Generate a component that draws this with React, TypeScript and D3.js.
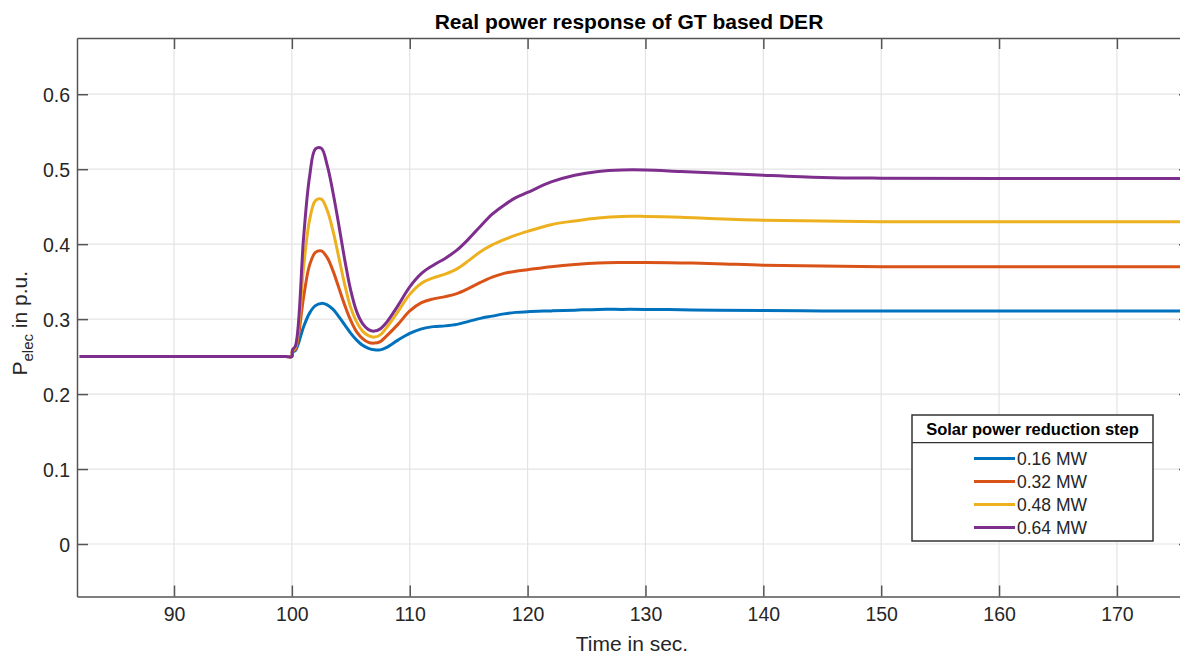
import { useEffect, useRef } from 'react';
import * as d3 from 'd3';

// time axis shared by all four runs (seconds)
const timeSec = [82, 90, 99.5, 100, 100.05, 100.3, 101, 101.5, 102, 102.5, 103, 103.5, 104, 104.5, 105, 105.5, 106, 106.5, 107, 107.5, 108, 109, 110, 111, 112, 113, 114, 115, 116, 117, 118, 119, 120, 122, 124, 126, 128, 130, 133, 136, 140, 145, 150, 160, 177];

const p016 = [0.250, 0.250, 0.250, 0.250, 0.256, 0.258, 0.290, 0.308, 0.318, 0.321, 0.319, 0.313, 0.303, 0.292, 0.281, 0.272, 0.265, 0.261, 0.259, 0.259, 0.262, 0.272, 0.281, 0.287, 0.290, 0.291, 0.293, 0.297, 0.301, 0.304, 0.307, 0.309, 0.310, 0.311, 0.312, 0.313, 0.313, 0.313, 0.3125, 0.312, 0.3115, 0.311, 0.311, 0.311, 0.311];
const p032 = [0.250, 0.250, 0.250, 0.250, 0.257, 0.260, 0.330, 0.372, 0.389, 0.391, 0.382, 0.364, 0.341, 0.318, 0.298, 0.283, 0.274, 0.269, 0.268, 0.270, 0.277, 0.293, 0.311, 0.322, 0.327, 0.330, 0.334, 0.341, 0.349, 0.356, 0.361, 0.364, 0.366, 0.370, 0.373, 0.375, 0.3755, 0.3755, 0.375, 0.374, 0.372, 0.371, 0.370, 0.370, 0.370];
const p048 = [0.250, 0.250, 0.250, 0.250, 0.258, 0.262, 0.370, 0.432, 0.458, 0.460, 0.445, 0.417, 0.381, 0.345, 0.315, 0.296, 0.284, 0.278, 0.276, 0.279, 0.288, 0.310, 0.333, 0.348, 0.355, 0.360, 0.367, 0.378, 0.390, 0.399, 0.406, 0.412, 0.417, 0.426, 0.431, 0.435, 0.437, 0.437, 0.436, 0.434, 0.432, 0.431, 0.430, 0.430, 0.430];
const p064 = [0.250, 0.250, 0.250, 0.250, 0.259, 0.264, 0.410, 0.490, 0.527, 0.528, 0.505, 0.468, 0.424, 0.378, 0.338, 0.310, 0.294, 0.286, 0.284, 0.287, 0.295, 0.318, 0.343, 0.361, 0.372, 0.381, 0.392, 0.407, 0.424, 0.440, 0.452, 0.462, 0.469, 0.483, 0.492, 0.497, 0.499, 0.499, 0.497, 0.495, 0.492, 0.489, 0.488, 0.4875, 0.4875];

const seriesNames = ['0.16 MW', '0.32 MW', '0.48 MW', '0.64 MW'];
const seriesValues = [p016, p032, p048, p064];
const seriesColors = ['#0072BD', '#D95319', '#EDB120', '#7E2F8E'];

const xTicks = [90, 100, 110, 120, 130, 140, 150, 160, 170];
const yTicks = [0, 0.1, 0.2, 0.3, 0.4, 0.5, 0.6];

const W = 1180;
const H = 656;
const margin = { left: 77, top: 38, right: 1190, bottom: 596.5 };
const FONT = '"Liberation Sans", Arial, sans-serif';

export default function App() {
  const ref = useRef<SVGSVGElement>(null);

  useEffect(() => {
    const svg = d3.select(ref.current);
    svg.selectAll('*').remove();

    const x = d3.scaleLinear().domain([81.77, 176.2]).range([margin.left, margin.right]);
    const y = d3.scaleLinear().domain([-0.07, 0.675]).range([margin.bottom, margin.top]);

    svg.append('rect').attr('width', W).attr('height', H).attr('fill', '#fff');

    // grid
    const grid = svg.append('g').attr('stroke', '#e3e3e3').attr('stroke-width', 1.2);
    xTicks.forEach(t => {
      grid.append('line').attr('x1', x(t)).attr('x2', x(t)).attr('y1', margin.top).attr('y2', margin.bottom);
    });
    yTicks.forEach(t => {
      grid.append('line').attr('x1', margin.left).attr('x2', margin.right).attr('y1', y(t)).attr('y2', y(t));
    });

    // series
    const clip = svg.append('clipPath').attr('id', 'plotclip');
    clip.append('rect').attr('x', margin.left).attr('y', margin.top)
      .attr('width', margin.right - margin.left).attr('height', margin.bottom - margin.top);

    const line = d3.line<number>()
      .x((_, i) => x(timeSec[i]))
      .y(d => y(d))
      .curve(d3.curveCatmullRom.alpha(0.5));

    const lines = svg.append('g').attr('clip-path', 'url(#plotclip)');
    seriesValues.forEach((vals, i) => {
      lines.append('path')
        .datum(vals)
        .attr('fill', 'none')
        .attr('stroke', seriesColors[i])
        .attr('stroke-width', 3)
        .attr('stroke-linejoin', 'round')
        .attr('d', line);
    });

    // axes with inward ticks on all sides
    const axisColor = '#555';
    const tickLen = 11;
    const bottom = svg.append('g').attr('transform', `translate(0, ${margin.bottom})`)
      .call(d3.axisBottom(x).tickValues(xTicks).tickSizeInner(-tickLen).tickSizeOuter(0).tickPadding(11).tickFormat(d3.format('d')));
    const top = svg.append('g').attr('transform', `translate(0, ${margin.top})`)
      .call(d3.axisTop(x).tickValues(xTicks).tickSizeInner(-tickLen).tickSizeOuter(0).tickFormat(() => ''));
    const left = svg.append('g').attr('transform', `translate(${margin.left}, 0)`)
      .call(d3.axisLeft(y).tickValues(yTicks).tickSizeInner(-tickLen).tickSizeOuter(0).tickPadding(7).tickFormat(d => d === 0 ? '0' : d3.format('.1f')(d as number)));
    const right = svg.append('g').attr('transform', `translate(${margin.right}, 0)`)
      .call(d3.axisRight(y).tickValues(yTicks).tickSizeInner(-tickLen).tickSizeOuter(0).tickFormat(() => ''));

    [bottom, top, left, right].forEach(g => {
      g.select('.domain').attr('stroke', axisColor).attr('stroke-width', 1.5);
      g.selectAll('.tick line').attr('stroke', axisColor).attr('stroke-width', 1.5);
      g.selectAll('.tick text').attr('fill', '#262626').attr('font-family', FONT).attr('font-size', 19.5);
    });
    left.selectAll('.tick text').attr('dy', '0.36em');

    // title and labels
    svg.append('text')
      .attr('x', 629).attr('y', 29)
      .attr('text-anchor', 'middle')
      .attr('font-family', FONT).attr('font-weight', 'bold').attr('font-size', 21)
      .attr('fill', '#000')
      .text('Real power response of GT based DER');

    svg.append('text')
      .attr('x', 632).attr('y', 651)
      .attr('text-anchor', 'middle')
      .attr('font-family', FONT).attr('font-size', 21)
      .attr('fill', '#262626')
      .text('Time in sec.');

    const yl = svg.append('text')
      .attr('transform', `translate(27, ${(margin.top + margin.bottom) / 2 + 6}) rotate(-90)`)
      .attr('text-anchor', 'middle')
      .attr('font-family', FONT).attr('font-size', 21)
      .attr('fill', '#262626');
    yl.append('tspan').text('P');
    yl.append('tspan').attr('dy', 6).attr('font-size', 15).text('elec');
    yl.append('tspan').attr('dy', -6).text(' in p.u.');

    // legend
    const lg = svg.append('g');
    const lx = 912, ly = 415, lw = 241, lh = 126;
    lg.append('rect').attr('x', lx).attr('y', ly).attr('width', lw).attr('height', lh)
      .attr('fill', '#fff').attr('stroke', '#333').attr('stroke-width', 1.5);
    lg.append('line').attr('x1', lx).attr('x2', lx + lw).attr('y1', 442.7).attr('y2', 442.7)
      .attr('stroke', '#333').attr('stroke-width', 1.2);
    lg.append('text')
      .attr('x', lx + lw / 2).attr('y', 435)
      .attr('text-anchor', 'middle')
      .attr('font-family', FONT).attr('font-weight', 'bold').attr('font-size', 16.5)
      .attr('fill', '#000')
      .text('Solar power reduction step');
    const rowY = [458.5, 481.5, 504.5, 527.5];
    seriesNames.forEach((name, i) => {
      lg.append('line').attr('x1', 974).attr('x2', 1015).attr('y1', rowY[i]).attr('y2', rowY[i])
        .attr('stroke', seriesColors[i]).attr('stroke-width', 3);
      lg.append('text')
        .attr('x', 1017).attr('y', rowY[i]).attr('dy', '0.36em')
        .attr('font-family', FONT).attr('font-size', 17.5)
        .attr('fill', '#262626')
        .text(name);
    });
  }, []);

  return (
    <svg
      ref={ref}
      width={W}
      height={H}
      style={{ position: 'absolute', left: 0, top: 0, display: 'block' }}
    />
  );
}
